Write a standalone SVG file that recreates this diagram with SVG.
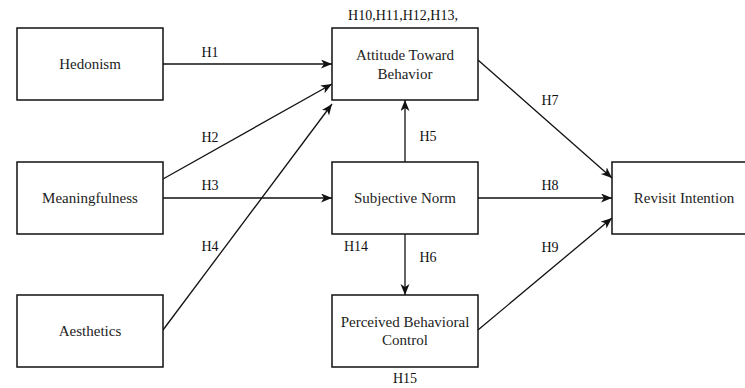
<svg xmlns="http://www.w3.org/2000/svg" width="745" height="388" viewBox="0 0 745 388" font-family="'Liberation Serif', 'Times New Roman', Times, 'DejaVu Serif', serif">
<style>
.box{fill:#fff;stroke:#111;stroke-width:1.5}
.lbl{font-size:15px;fill:#222;text-anchor:middle}
.h{font-size:14px;fill:#111;text-anchor:middle}
.edge{stroke:#111;stroke-width:1.3;fill:none}
.arr{marker-end:url(#ah)}
</style>
<defs>
<marker id="ah" markerUnits="userSpaceOnUse" markerWidth="12" markerHeight="10" refX="11" refY="4.5" orient="auto">
<path d="M0,0 L11,4.5 L0,9 L3,4.5 z" fill="#111"/>
</marker>
</defs>
<rect width="745" height="388" fill="#fff"/>
<g id="connectors">
<line class="edge arr" x1="163" y1="64" x2="332" y2="64"/>
<line class="edge arr" x1="163" y1="179" x2="332" y2="84"/>
<line class="edge arr" x1="163" y1="330" x2="332" y2="104"/>
<line class="edge arr" x1="163" y1="198" x2="332" y2="198"/>
<line class="edge arr" x1="405" y1="162" x2="405" y2="100"/>
<line class="edge arr" x1="405" y1="234" x2="405" y2="295"/>
<line class="edge arr" x1="478" y1="60" x2="612" y2="178"/>
<line class="edge arr" x1="478" y1="198" x2="612" y2="198"/>
<line class="edge arr" x1="478" y1="330" x2="612" y2="218"/>
<g id="edge-labels" font-family="Liberation Serif, serif">
<text class="h" x="210" y="57">H1</text>
<text class="h" x="210" y="142">H2</text>
<text class="h" x="210" y="190">H3</text>
<text class="h" x="210" y="251">H4</text>
<text class="h" x="428" y="141">H5</text>
<text class="h" x="428" y="262">H6</text>
<text class="h" x="550" y="105">H7</text>
<text class="h" x="550" y="190">H8</text>
<text class="h" x="550" y="252">H9</text>
<text class="h" x="356" y="251">H14</text>
<text class="h" x="405" y="383">H15</text>
<text class="h" x="403" y="20">H10,H11,H12,H13,</text>
</g>
</g>
<g id="hedonism">
<rect class="box" x="17" y="28" width="146" height="72"/>
<text class="lbl" x="90" y="69">Hedonism</text>
</g>
<g id="meaningfulness">
<rect class="box" x="17" y="162" width="146" height="72"/>
<text class="lbl" x="90" y="203">Meaningfulness</text>
</g>
<g id="aesthetics">
<rect class="box" x="17" y="295" width="146" height="72"/>
<text class="lbl" x="90" y="336">Aesthetics</text>
</g>
<g id="attitude">
<rect class="box" x="332" y="28" width="146" height="72"/>
<text class="lbl" x="405" y="60">Attitude Toward</text>
<text class="lbl" x="405" y="79">Behavior</text>
</g>
<g id="subjective-norm">
<rect class="box" x="332" y="162" width="146" height="72"/>
<text class="lbl" x="405" y="203">Subjective Norm</text>
</g>
<g id="pbc">
<rect class="box" x="332" y="295" width="146" height="72"/>
<text class="lbl" x="405" y="327">Perceived Behavioral</text>
<text class="lbl" x="405" y="345">Control</text>
</g>
<g id="revisit">
<rect class="box" x="612" y="162" width="146" height="72"/>
<text class="lbl" x="684" y="203">Revisit Intention</text>
</g>
</svg>
